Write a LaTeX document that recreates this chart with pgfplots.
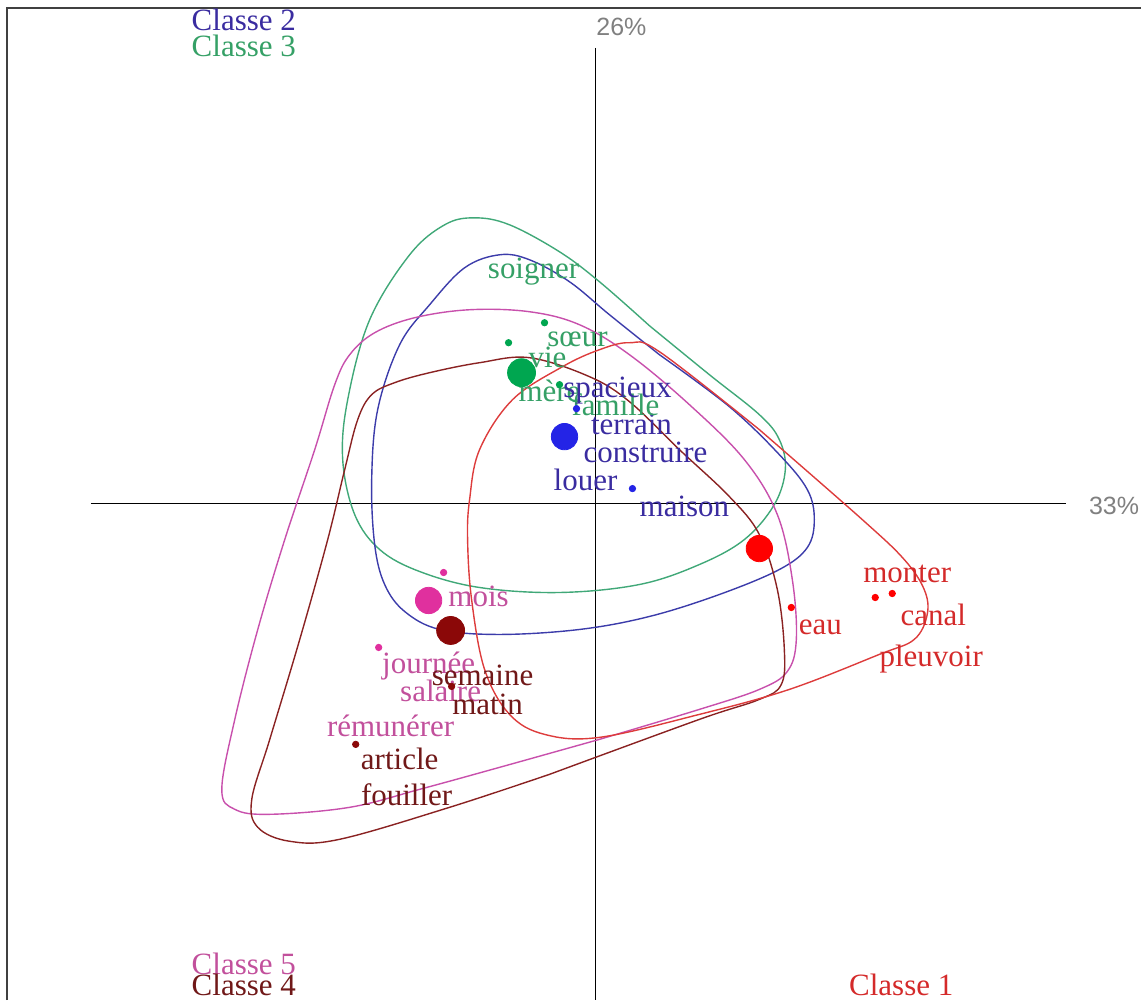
\documentclass[border=0pt]{standalone}
\usepackage{fontspec}
\setmainfont{Liberation Serif}
\newfontfamily\sansf{Liberation Sans}
\usepackage{pgfplots}
\pgfplotsset{compat=1.18}
\definecolor{aT}{HTML}{D42A2A}\definecolor{aD}{HTML}{FF0000}\definecolor{aL}{HTML}{DD3C3C}
\definecolor{bT}{HTML}{3A2CA0}\definecolor{bD}{HTML}{2424E6}\definecolor{bL}{HTML}{3C3CAA}
\definecolor{gT}{HTML}{35A066}\definecolor{gD}{HTML}{00A650}\definecolor{gL}{HTML}{40A878}
\definecolor{dT}{HTML}{701818}\definecolor{dD}{HTML}{8B0808}\definecolor{dL}{HTML}{8A2222}
\definecolor{pT}{HTML}{C2509C}\definecolor{pD}{HTML}{E0309E}\definecolor{pL}{HTML}{C850AC}
\newcommand{\lbl}{\fontsize{15.5}{17}\selectfont}
\pgfplotsset{
 lab/.style={only marks, mark=none, nodes near coords, point meta=explicit symbolic,
   nodes near coords style={anchor=center, inner sep=0pt, text=#1, font=\lbl}},
 cont/.style={smooth, tension=0.6, no markers, line width=0.7pt, draw=#1},
}
\begin{document}
\begin{tikzpicture}
\begin{axis}[width=571pt,height=500.5pt,scale only axis,
  xmin=0,xmax=1142,ymin=0,ymax=1001,y dir=reverse,hide axis,clip=false]
\addplot[draw=none] coordinates {(0,0) (1142,1001)};
% labels
\addplot[lab=aT] table[meta=t,row sep=\\]{x y t\\ 908 574 monter\\ 934 615 canal\\ 932 660 pleuvoir\\ 821 628 eau\\ 902 986 {Classe 1}\\};
\addplot[lab=bT] table[meta=t,row sep=\\]{x y t\\ 632 425 terrain\\ 646 453 construire\\ 586 480 louer\\ 685 507 maison\\ 244 20 {Classe 2}\\};
\addplot[lab=gT] table[meta=t,row sep=\\]{x y t\\ 534 272 soigner\\ 578 340 sœur\\ 548 358 vie\\ 550 391 mère\\ 616 405 famille\\ 244 46 {Classe 3}\\};
\addplot[lab=bT] table[meta=t,row sep=\\]{x y t\\ 618 391 spacieux\\};
\addplot[lab=pT] table[meta=t,row sep=\\]{x y t\\ 479 597 mois\\ 429 667 journée\\ 441 691 salaire\\ 391 726 rémunérer\\ 244 965 {Classe 5}\\};
\addplot[lab=dT] table[meta=t,row sep=\\]{x y t\\ 483 676 semaine\\ 488 705 matin\\ 400 760 article\\ 407 795 fouiller\\ 244 986 {Classe 4}\\};
% gray percentages
\addplot[only marks, mark=none, nodes near coords, point meta=explicit symbolic,
  nodes near coords style={anchor=center, inner sep=0pt, text=black!50, font=\sansf\fontsize{12.5}{14}\selectfont}]
  table[meta=t,row sep=\\]{x y t\\ 622 27 26\%\\ 1115 506 33\%\\};
% frame and axes
\addplot[line width=1pt, draw=black!75, no markers] coordinates {(7,1001) (7,8) (1142,8)};
\addplot[line width=0.75pt, black, no markers] coordinates {(91,504) (1067,504)};
\addplot[line width=0.75pt, black, no markers] coordinates {(596,48) (596,1001)};
% small dots
\addplot[only marks, mark=*, mark size=1.6pt, aD, mark options={draw=aD,fill=aD}] coordinates {(792,608) (876,598) (893,594)};
\addplot[only marks, mark=*, mark size=1.6pt, bD, mark options={draw=bD,fill=bD}] coordinates {(633,489) (577,409)};
\addplot[only marks, mark=*, mark size=1.6pt, gD, mark options={draw=gD,fill=gD}] coordinates {(545,323) (509,343) (560,385)};
\addplot[only marks, mark=*, mark size=1.6pt, pD, mark options={draw=pD,fill=pD}] coordinates {(444,573) (379,648)};
\addplot[only marks, mark=*, mark size=1.6pt, dD, mark options={draw=dD,fill=dD}] coordinates {(356,745) (452,687)};
% centroids
\addplot[only marks, mark=*, mark size=6.6pt, mark options={draw=aD,fill=aD}] coordinates {(760,549)};
\addplot[only marks, mark=*, mark size=6.6pt, mark options={draw=bD,fill=bD}] coordinates {(565,437)};
\addplot[only marks, mark=*, mark size=7pt, mark options={draw=gD,fill=gD}] coordinates {(522,373)};
\addplot[only marks, mark=*, mark size=6.6pt, mark options={draw=pD,fill=pD}] coordinates {(429,601)};
\addplot[only marks, mark=*, mark size=7pt, mark options={draw=dD,fill=dD}] coordinates {(451,631)};
% contours
\addplot[cont=gL] coordinates {(650,326) (710,375) (760,415) (780,440) (786,470) (775,505) (745,540) (700,565) (640,585) (560,593) (480,588) (420,572) (380,550) (355,515) (343,460) (348,400) (370,320) (410,255) (445,225) (475,218) (510,225) (560,252) (600,282) (650,326)};
\addplot[cont=bL] coordinates {(660,355) (730,407) (780,455) (808,490) (815,520) (808,548) (780,570) (720,595) (650,617) (580,630) (500,635) (440,630) (405,612) (385,585) (375,545) (372,480) (378,410) (400,345) (430,305) (465,268) (500,255) (530,260) (570,282) (610,315) (660,355)};
\addplot[cont=pL] coordinates {(600,740) (700,710) (760,690) (788,672) (797,640) (793,580) (778,515) (745,460) (690,405) (630,355) (580,325) (530,312) (470,310) (415,318) (375,333) (350,355) (335,385) (315,450) (285,540) (258,630) (235,720) (222,790) (235,810) (270,815) (350,808) (420,790) (500,768) (600,740)};
\addplot[cont=dL] coordinates {(550,775) (700,720) (760,700) (782,685) (785,650) (778,590) (760,535) (730,497) (680,450) (630,402) (590,377) (530,358) (480,363) (430,373) (395,383) (372,395) (358,420) (345,470) (328,540) (300,640) (270,740) (252,800) (258,828) (290,842) (340,840) (450,808) (550,775)};
\addplot[cont=aL] coordinates {(760,430) (863,520) (905,560) (925,590) (928,615) (915,640) (880,655) (790,690) (700,715) (600,738) (545,735) (510,715) (485,670) (472,600) (468,540) (470,500) (480,450) (513,400) (563,367) (600,350) (630,343) (660,352) (760,430)};
\end{axis}
\end{tikzpicture}
\end{document}
